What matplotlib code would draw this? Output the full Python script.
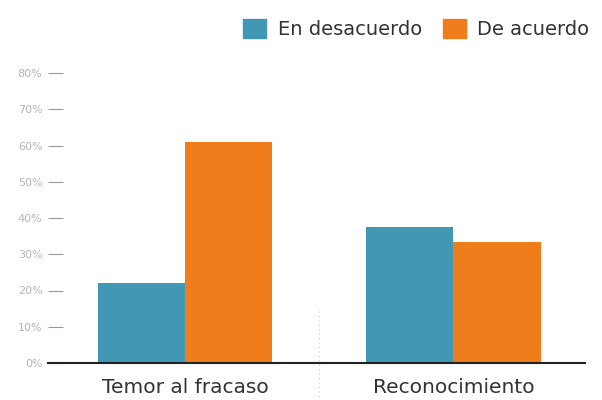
import matplotlib
matplotlib.use("Agg")
import matplotlib.pyplot as plt
import matplotlib.transforms as mtransforms
from matplotlib.patches import Patch
import numpy as np

plt.rcParams['font.family'] = ['DejaVu Sans']

categories = ["Temor al fracaso", "Reconocimiento"]
series_names = ["En desacuerdo", "De acuerdo"]
en_desacuerdo = [22, 37.5]
de_acuerdo = [61, 33.5]
yticks = [0, 10, 20, 30, 40, 50, 60, 70, 80]
ytick_labels = ["0%", "10%", "20%", "30%", "40%", "50%", "60%", "70%", "80%"]

c_teal = "#4197b4"
c_orange = "#f07d1c"

fig = plt.figure(figsize=(6.02, 4.0), dpi=100)
ax = fig.add_axes([48/602, 1-363/400, (585-48)/602, (363-73)/400])

x = np.arange(len(categories))
w = 0.325
ax.bar(x - w/2, en_desacuerdo, width=w, color=c_teal, zorder=2)
ax.bar(x + w/2, de_acuerdo, width=w, color=c_orange, zorder=2)

ax.set_xlim(-0.51, 1.49)
ax.set_ylim(0, 80)
ax.set_yticks(yticks)
ax.set_yticklabels(ytick_labels, fontsize=8, color="#b5b5b5")
ax.tick_params(axis='y', direction='in', length=11, width=0.8, color="#999999", pad=4)
ax.set_xticks(x)
ax.set_xticklabels(categories, fontsize=14.5, color="#333333")
ax.tick_params(axis='x', length=0, pad=11)

for s in ["top", "right", "left"]:
    ax.spines[s].set_visible(False)
ax.spines["bottom"].set_color("#222222")
ax.spines["bottom"].set_linewidth(1.5)

trans = mtransforms.blended_transform_factory(ax.transData, ax.transAxes)
ax.plot([0.5, 0.5], [-0.13, 0.19], transform=trans, color="#cccccc",
        linestyle=(0, (1, 3)), linewidth=0.8, clip_on=False)

handles = [Patch(color=c_teal), Patch(color=c_orange)]
fig.legend(handles, series_names, loc="upper right", bbox_to_anchor=(1.008, 0.997),
           ncol=2, frameon=False, fontsize=14, handlelength=1.15, handleheight=1.15,
           handletextpad=0.6, columnspacing=1.1, labelcolor="#333333")

fig.savefig("out.png", dpi=100)
